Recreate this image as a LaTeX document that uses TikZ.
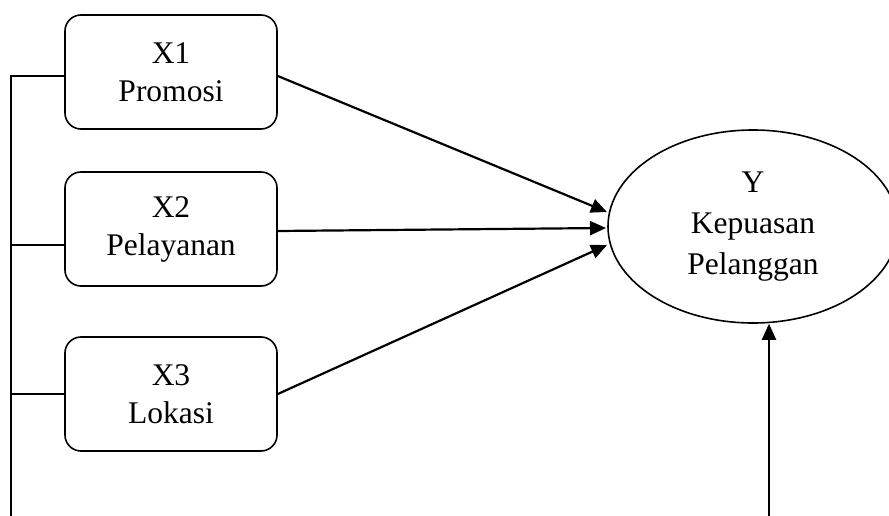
\documentclass[tikz,border=0pt]{standalone}
\usepackage{fontspec}
\setmainfont{Liberation Serif}
\usetikzlibrary{shapes.geometric,arrows.meta}
\begin{document}
\begin{tikzpicture}[x=1pt,y=-1pt,
  varbox/.style={draw,line width=1.6pt,rounded corners=16pt,minimum width=212pt,minimum height=114pt,align=center,font=\fontsize{31.5}{38}\selectfont},
  latent/.style={draw,line width=1.6pt,ellipse,minimum width=290pt,minimum height=193pt,align=center,font=\fontsize{31.5}{41}\selectfont},
  conn/.style={line width=1.8pt},
  arr/.style={line width=2.2pt,-{Triangle[length=16pt,width=14pt]}}]
\useasboundingbox (0,0) rectangle (889,516);
\clip (0,0) rectangle (889,516);
\node[varbox] (x1) at (171,72) {X1\\Promosi};
\node[varbox] (x2) at (171,229) {X2\\Pelayanan};
\node[varbox] (x3) at (171,394) {X3\\Lokasi};
\node[latent] (yy) at (753,226.5) {Y\\Kepuasan\\Pelanggan};
\coordinate (bus) at (11,516);
\coordinate (b2) at (769,516);
\coordinate (t1) at (607,212);
\coordinate (t2) at (606,228);
\coordinate (t3) at (607,245);
\draw[conn] (bus) |- ([yshift=-4pt]x1.west);
\draw[conn] ([yshift=-16pt]x2.west) -- ([yshift=-16pt]x2.west -| bus);
\draw[conn] (x3.west) -- (x3.west -| bus);
\draw[arr] ([yshift=-4pt]x1.east) -- (t1);
\draw[arr] ([yshift=-2pt]x2.east) -- (t2);
\draw[arr] (x3.east) -- (t3);
\draw[arr] (b2) -- (b2 |- yy.south);
\end{tikzpicture}
\end{document}
